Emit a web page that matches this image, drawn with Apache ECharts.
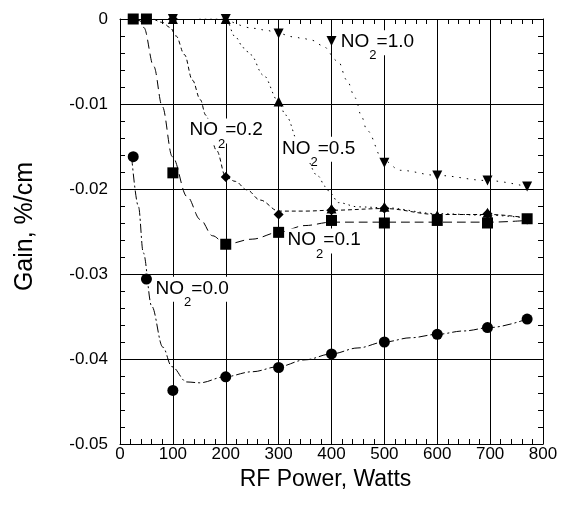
<!DOCTYPE html>
<html>
<head>
<meta charset="utf-8">
<script src="https://cdn.jsdelivr.net/npm/echarts@6/dist/echarts.min.js"></script>
<style>
html,body{margin:0;padding:0;background:#fff;}
#chart{width:561px;height:517px;}
</style>
</head>
<body>
<div id="chart"></div>
<script>
// ---- Data ----
const yTickLabels = ['0', '-0.01', '-0.02', '-0.03', '-0.04', '-0.05'];
const xTickLabels = ['0', '100', '200', '300', '400', '500', '600', '700', '800'];

// measured points (markers)
const no2_00_x = [25, 50, 100, 200, 300, 400, 500, 600, 695, 770];
const no2_00_y = [-0.0162, -0.0306, -0.0437, -0.0421, -0.0410, -0.0394, -0.0380, -0.0371, -0.0363, -0.0353];

const no2_01_x = [25, 50, 100, 200, 300, 400, 500, 600, 695, 770];
const no2_01_y = [0, 0, -0.0181, -0.0265, -0.0251, -0.0237, -0.0240, -0.0237, -0.0240, -0.0235];

const no2_02_x = [100, 200, 300, 400, 500, 600, 695, 770];
const no2_02_y = [0, -0.0186, -0.0230, -0.0225, -0.0223, -0.0233, -0.0229, -0.0236];

const no2_05_x = [100, 200, 300, 400, 500, 600, 695, 770];
const no2_05_y = [0, 0, -0.0097, -0.0223, -0.0221, -0.0231, -0.0228, -0.0235];

const no2_10_x = [100, 200, 300, 400, 500, 600, 695, 770];
const no2_10_y = [0, 0, -0.0017, -0.0026, -0.0169, -0.0184, -0.0190, -0.0197];

// fitted curves
const fit_00_x = [22, 35, 44, 60, 81, 98, 126, 151, 198, 250, 300, 350, 400, 450, 500, 550, 600, 650, 700, 770];
const fit_00_y = [-0.0162, -0.0221, -0.0275, -0.0338, -0.0386, -0.0409, -0.0427, -0.0428, -0.0421, -0.0415, -0.0409, -0.0401, -0.0394, -0.0387, -0.0380, -0.0375, -0.0371, -0.0367, -0.0363, -0.0353];

const fit_01_x = [25, 38, 45, 64, 80, 99, 127, 152, 175, 200, 250, 300, 350, 400, 500, 600, 700, 770];
const fit_01_y = [0, -0.0002, -0.0010, -0.0056, -0.0103, -0.0162, -0.0209, -0.0236, -0.0255, -0.0265, -0.0259, -0.0251, -0.0243, -0.0239, -0.0239, -0.0239, -0.0239, -0.0237];

const fit_02_x = [64, 80, 95, 106, 122, 137, 152, 162, 183, 200, 218, 240, 265, 300, 350, 400, 500, 600, 700, 770];
const fit_02_y = [0, -0.0004, -0.0010, -0.0020, -0.0042, -0.0072, -0.0095, -0.0113, -0.0155, -0.0186, -0.0191, -0.0201, -0.0213, -0.0226, -0.0226, -0.0225, -0.0223, -0.0230, -0.0230, -0.0234];

const fit_05_x = [150, 200, 218, 234, 247, 271, 300, 313, 341, 375, 388, 398, 413, 450, 500, 600, 700, 770];
const fit_05_y = [0, 0, -0.0021, -0.0034, -0.0042, -0.0066, -0.0097, -0.0113, -0.0150, -0.0185, -0.0197, -0.0205, -0.0216, -0.0221, -0.0222, -0.0229, -0.0231, -0.0234];

const fit_10_x = [200, 253, 275, 300, 328, 347, 363, 382, 413, 429, 445, 457, 467, 498, 530, 600, 695, 775];
const fit_10_y = [0, -0.0011, -0.0013, -0.0017, -0.0021, -0.0023, -0.0025, -0.0031, -0.0050, -0.0072, -0.0093, -0.0115, -0.0131, -0.0166, -0.0178, -0.0184, -0.0190, -0.0198];

const seriesNames = ['0.0', '0.1', '0.2', '0.5', '1.0'];

// ---- build ----
const zip = (xs, ys) => xs.map((x, i) => [x, ys[i]]);
const FONT = 'Liberation Sans, Arial, sans-serif';

function fitSeries(name, xs, ys, dash) {
  return {
    name: 'fit ' + name, type: 'line', data: zip(xs, ys), showSymbol: false, symbol: 'none',
    smooth: 0.35, smoothMonotone: 'x', silent: true,
    lineStyle: { color: '#000', width: 1, type: dash, opacity: 1 }, z: 3
  };
}
function ptSeries(name, xs, ys, symbol, size, rotate) {
  return {
    name: 'NO2=' + name, type: 'scatter', data: zip(xs, ys), symbol: symbol, symbolSize: size,
    symbolRotate: rotate || 0, itemStyle: { color: '#000', opacity: 1 }, z: 5, silent: true
  };
}

const chart = echarts.init(document.getElementById('chart'), null, { renderer: 'canvas' });

const annotations = [
  { value: [61.7, -0.03033], name: seriesNames[0] },
  { value: [311.3, -0.02465], name: seriesNames[1] },
  { value: [125.8, -0.0117], name: seriesNames[2] },
  { value: [300.8, -0.01386], name: seriesNames[3] },
  { value: [412, -0.00132], name: seriesNames[4] }
];

const axisCommon = {
  axisLine: { show: true, onZero: false, lineStyle: { color: '#000', width: 1 } },
  axisTick: { show: true, inside: true, length: 5, lineStyle: { color: '#000', width: 1 } },
  minorTick: { show: true, splitNumber: 5, length: 5, lineStyle: { color: '#000', width: 1 } }
};

const option = {
  animation: false,
  backgroundColor: '#fff',
  grid: { left: 120, right: 18, top: 19, bottom: 73, containLabel: false },
  xAxis: [
    Object.assign({
      type: 'value', min: 0, max: 800, interval: 100, position: 'bottom',
      splitLine: { show: true, lineStyle: { color: '#000', width: 1 } },
      axisLabel: { color: '#000', fontSize: 17, fontFamily: FONT, margin: 2,
        formatter: v => xTickLabels[Math.round(v / 100)] },
      name: 'RF Power, Watts', nameLocation: 'middle', nameGap: 24,
      nameTextStyle: { color: '#000', fontSize: 23, fontFamily: FONT, verticalAlign: 'top', padding: [0, 12, 0, 0] }
    }, axisCommon),
    Object.assign({
      type: 'value', min: 0, max: 800, interval: 100, position: 'top',
      splitLine: { show: false }, axisLabel: { show: false }
    }, axisCommon)
  ],
  yAxis: [
    Object.assign({
      type: 'value', min: -0.05, max: 0, interval: 0.01, position: 'left',
      splitLine: { show: true, lineStyle: { color: '#000', width: 1 } },
      axisLabel: { color: '#000', fontSize: 17, fontFamily: FONT, margin: 12,
        formatter: v => yTickLabels[Math.round(-v / 0.01)] },
      name: 'Gain, %/cm', nameLocation: 'middle', nameGap: 82,
      nameTextStyle: { color: '#000', fontSize: 25, fontFamily: FONT, padding: [0, 0, 0, 10] }
    }, axisCommon),
    Object.assign({
      type: 'value', min: -0.05, max: 0, interval: 0.01, position: 'right',
      splitLine: { show: false }, axisLabel: { show: false }
    }, axisCommon)
  ],
  series: [
    fitSeries(seriesNames[0], fit_00_x, fit_00_y, [9, 3, 2, 3]),
    fitSeries(seriesNames[1], fit_01_x, fit_01_y, [9, 5]),
    fitSeries(seriesNames[2], fit_02_x, fit_02_y, [4, 3]),
    fitSeries(seriesNames[3], fit_05_x, fit_05_y, [1.5, 4]),
    fitSeries(seriesNames[4], fit_10_x, fit_10_y, [1.5, 6]),
    ptSeries(seriesNames[0], no2_00_x, no2_00_y, 'circle', 11),
    ptSeries(seriesNames[1], no2_01_x, no2_01_y, 'rect', 11),
    ptSeries(seriesNames[2], no2_02_x, no2_02_y, 'diamond', 10),
    ptSeries(seriesNames[3], no2_05_x, no2_05_y, 'triangle', 10),
    ptSeries(seriesNames[4], no2_10_x, no2_10_y, 'triangle', 10, 180),
    {
      name: 'labels', type: 'scatter', symbolSize: 0, z: 4, silent: true,
      itemStyle: { opacity: 1 },
      data: annotations,
      label: {
        show: true, position: [0, 0], align: 'left', verticalAlign: 'top',
        backgroundColor: '#fff', padding: [2, 3, 1, 3],
        formatter: p => '{a|NO}{s|2}{a|=' + p.name + '}',
        rich: {
          a: { fontSize: 19, fontFamily: FONT, color: '#000', lineHeight: 22, verticalAlign: 'top' },
          s: { fontSize: 13, fontFamily: FONT, color: '#000', lineHeight: 13, verticalAlign: 'top', padding: [17, 0, 0, 0] }
        }
      }
    }
  ]
};
chart.setOption(option);
</script>
</body>
</html>
